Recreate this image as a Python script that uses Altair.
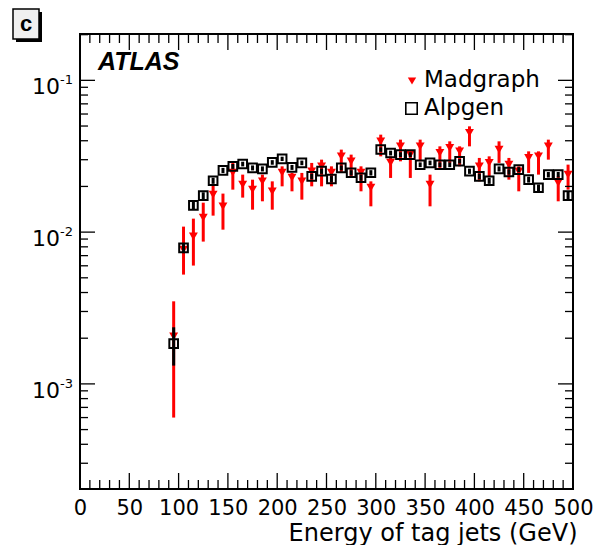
import altair as alt
import pandas as pd

# ---------------- data ----------------
energy = [95, 105, 115, 125, 135, 145, 155, 165, 175, 185,
          195, 205, 215, 225, 235, 245, 255, 265, 275, 285,
          295, 305, 315, 325, 335, 345, 355, 365, 375, 385,
          395, 405, 415, 425, 435, 445, 455, 465, 475, 485, 495]

alp_val = [0.00184, 0.00787, 0.0150, 0.0174, 0.0218, 0.0255, 0.0271, 0.0281, 0.0265, 0.0261,
           0.0288, 0.0304, 0.0267, 0.0286, 0.0233, 0.0252, 0.0224, 0.0265, 0.0246, 0.0228,
           0.0246, 0.0350, 0.0332, 0.0324, 0.0324, 0.0278, 0.0286, 0.0278, 0.0278, 0.0293,
           0.0252, 0.0233, 0.0218, 0.0261, 0.0249, 0.0258, 0.0222, 0.0196, 0.0239, 0.0239, 0.0174]
alp_err = [0.00052, 0.0006, 0.0008, 0.0009, 0.0010, 0.0010, 0.0010, 0.0010, 0.0010, 0.0010,
           0.0010, 0.0010, 0.0010, 0.0010, 0.0010, 0.0010, 0.0010, 0.0010, 0.0010, 0.0010,
           0.0010, 0.0012, 0.0012, 0.0012, 0.0012, 0.0010, 0.0010, 0.0010, 0.0010, 0.0010,
           0.0010, 0.0010, 0.0010, 0.0010, 0.0010, 0.0010, 0.0010, 0.0010, 0.0010, 0.0010, 0.0010]

mad_val = [0.00206, 0.00767, 0.00938, 0.01246, 0.01767, 0.01479, 0.02466, 0.02056, 0.01905, 0.02160,
           0.01857, 0.02466, 0.02286, 0.02160, 0.02515, 0.02713, 0.02466, 0.03157, 0.02927, 0.02466,
           0.01963, 0.03964, 0.02870, 0.03674, 0.03240, 0.03674, 0.02056, 0.03324, 0.03586, 0.03405,
           0.04502, 0.02713, 0.02857, 0.03496, 0.02784, 0.02515, 0.03082, 0.03157, 0.03674, 0.02110, 0.02392]
mad_lo = [0.00060, 0.00525, 0.00602, 0.00866, 0.01284, 0.01038, 0.01905, 0.01688, 0.01406, 0.01596,
          0.01406, 0.02003, 0.01857, 0.01637, 0.02003, 0.02003, 0.02003, 0.02455, 0.02275, 0.01857,
          0.01479, 0.03157, 0.02275, 0.02927, 0.02275, 0.02927, 0.01479, 0.02648, 0.02857, 0.02713,
          0.03674, 0.02160, 0.02331, 0.02857, 0.02216, 0.01857, 0.02455, 0.02392, 0.03003, 0.01596, 0.01905]
mad_hi = [0.00350, 0.01087, 0.01227, 0.01563, 0.02025, 0.01794, 0.02870, 0.02392, 0.02216, 0.02392,
          0.02160, 0.02713, 0.02455, 0.02455, 0.02857, 0.03003, 0.02713, 0.03496, 0.03240, 0.02713,
          0.02160, 0.04387, 0.03157, 0.04067, 0.03405, 0.04067, 0.02392, 0.03674, 0.03964, 0.03674,
          0.04977, 0.03082, 0.03157, 0.03964, 0.03082, 0.02713, 0.03405, 0.03405, 0.04067, 0.02331, 0.02784]

x_major = [0, 50, 100, 150, 200, 250, 300, 350, 400, 450, 500]
x_minor = [v for v in range(0, 501, 10) if v % 50 != 0]
y_major = [0.001, 0.01, 0.1]
y_minor = [0.0003, 0.0004, 0.0005, 0.0006, 0.0007, 0.0008, 0.0009,
           0.002, 0.003, 0.004, 0.005, 0.006, 0.007, 0.008, 0.009,
           0.02, 0.03, 0.04, 0.05, 0.06, 0.07, 0.08, 0.09, 0.2]
y_label_base = ["10", "10", "10"]
y_label_exp = ["-3", "-2", "-1"]

# ---------------- chart ----------------
W, H = 493, 455
FONT = "DejaVu Sans"

alp = pd.DataFrame({"E": energy, "v": alp_val,
                    "lo": [a - e for a, e in zip(alp_val, alp_err)],
                    "hi": [a + e for a, e in zip(alp_val, alp_err)]})
mad = pd.DataFrame({"E": energy, "v": mad_val, "lo": mad_lo, "hi": mad_hi})

xs = alt.Scale(domain=[0, 500], nice=False, zero=False)
ys = alt.Scale(type="log", domain=[2.03e-4, 0.202], nice=False)

xax = alt.Axis(values=x_major, ticks=False, domain=False, grid=False,
               labelFont=FONT, labelFontSize=21, labelPadding=8, labelColor="black",
               labelFlush=False, format="d",
               title="Energy of tag jets (GeV)", titleFont=FONT, titleFontSize=24,
               titleFontWeight="normal", titleColor="black", titleAlign="right",
               titleX=W + 4, titleY=51, titleBaseline="alphabetic", titleAnchor="end")
yax = alt.Axis(values=y_major, ticks=False, domain=False, grid=False, title=None,
               labels=False)

X = alt.X("E:Q", scale=xs, axis=xax)

red_bars = alt.Chart(mad).mark_rule(color="#ff0000", strokeWidth=3).encode(
    x=X, y=alt.Y("lo:Q", scale=ys, axis=yax), y2="hi:Q")
red_pts = alt.Chart(mad).mark_point(shape="triangle-down", filled=True, color="#ff0000",
                                    size=80, opacity=1).encode(
    x=X, y=alt.Y("v:Q", scale=ys, axis=yax))
blk_bars = alt.Chart(alp).mark_rule(color="black", strokeWidth=3).encode(
    x=X, y=alt.Y("lo:Q", scale=ys, axis=yax), y2="hi:Q")
blk_pts = alt.Chart(alp).mark_point(shape="square", filled=False, color="black",
                                    strokeWidth=2, size=75, opacity=1).encode(
    x=X, y=alt.Y("v:Q", scale=ys, axis=yax))

# inward-pointing ticks on all four sides
def xticks(vals, length):
    d = pd.DataFrame({"E": vals})
    bottom = alt.Chart(d).mark_rule(color="black", strokeWidth=1.3).encode(
        x=X, y=alt.value(H), y2=alt.value(H - length))
    top = alt.Chart(d).mark_rule(color="black", strokeWidth=1.3).encode(
        x=X, y=alt.value(0), y2=alt.value(length))
    return [bottom, top]

def yticks(vals, length):
    d = pd.DataFrame({"v": vals})
    left = alt.Chart(d).mark_rule(color="black", strokeWidth=1.3).encode(
        y=alt.Y("v:Q", scale=ys, axis=yax), x=alt.value(0), x2=alt.value(length))
    right = alt.Chart(d).mark_rule(color="black", strokeWidth=1.3).encode(
        y=alt.Y("v:Q", scale=ys, axis=yax), x=alt.value(W), x2=alt.value(W - length))
    return [left, right]

tick_layers = (xticks(x_major, 16) + xticks(x_minor, 9) +
               yticks(y_major, 15) + yticks(y_minor, 8))

# y tick labels as 10 with superscript exponent
ylab = pd.DataFrame({"v": y_major, "base": y_label_base, "exp": y_label_exp})
ylab_base = alt.Chart(ylab).mark_text(font=FONT, fontSize=22, align="right",
                                      baseline="alphabetic", dy=14, color="black").encode(
    y=alt.Y("v:Q", scale=ys, axis=yax), x=alt.value(-20), text="base:N")
ylab_exp = alt.Chart(ylab).mark_text(font=FONT, fontSize=13, align="left",
                                     baseline="alphabetic", dy=4, color="black").encode(
    y=alt.Y("v:Q", scale=ys, axis=yax), x=alt.value(-20), text="exp:N")

one = pd.DataFrame({"t": [""]})

def text(s, x, y, **kw):
    return alt.Chart(pd.DataFrame({"t": [s]})).mark_text(**kw).encode(
        x=alt.value(x), y=alt.value(y), text="t:N")

atlas = text("ATLAS", 18, 36, font="Liberation Sans", fontSize=25, fontWeight="bold",
             fontStyle="italic", align="left", baseline="alphabetic", color="black")
leg_tri = alt.Chart(one).mark_point(shape="triangle-down", filled=True, color="#ff0000",
                                    size=70, opacity=1).encode(
    x=alt.value(332), y=alt.value(47))
leg_sq = alt.Chart(one).mark_point(shape="square", filled=False, color="black",
                                   strokeWidth=1.6, size=130, opacity=1).encode(
    x=alt.value(331.5), y=alt.value(74.5))
leg_t1 = text("Madgraph", 344, 53, font=FONT, fontSize=23, align="left",
              baseline="alphabetic", color="black")
leg_t2 = text("Alpgen", 344, 81, font=FONT, fontSize=23, align="left",
              baseline="alphabetic", color="black")

# panel label box "c"
shadow = alt.Chart(one).mark_rect(color="black").encode(
    x=alt.value(-64), x2=alt.value(-38), y=alt.value(-22), y2=alt.value(8))
box = alt.Chart(one).mark_rect(fill="#f0f0f0", stroke="black", strokeWidth=1.5).encode(
    x=alt.value(-67), x2=alt.value(-41), y=alt.value(-25), y2=alt.value(5))
box_t = text("c", -54, -3, font="Liberation Sans", fontSize=22, fontWeight="bold",
             align="center", baseline="alphabetic", color="black")

chart = alt.layer(
    red_bars, red_pts, blk_bars, blk_pts, *tick_layers, ylab_base, ylab_exp,
    atlas, leg_tri, leg_sq, leg_t1, leg_t2, shadow, box, box_t
).properties(
    width=W, height=H,
    autosize=alt.AutoSizeParams(type="none"),
    padding={"left": 80, "top": 34, "right": 21, "bottom": 56},
    background="white",
).configure_view(stroke="black", strokeWidth=2)

chart.save("out.html", embed_options={"renderer": "svg", "actions": False})
